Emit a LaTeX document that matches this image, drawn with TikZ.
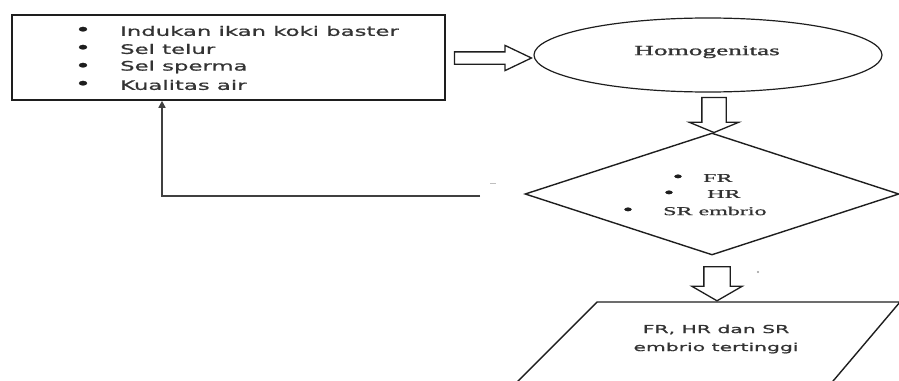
\documentclass[tikz,border=0pt]{standalone}
\usepackage{fontspec}
\usetikzlibrary{shapes.geometric,shapes.arrows,arrows.meta,calc}
\newfontfamily\boxfont[FakeStretch=1.75,FakeBold=1]{DejaVu Sans}
\newfontfamily\parafont[FakeStretch=1.85,FakeBold=1]{DejaVu Sans}
\newfontfamily\ellfont[FakeStretch=1.95,FakeBold=1.5]{Liberation Serif}
\newfontfamily\diafont[FakeStretch=2.0,FakeBold=1]{Liberation Serif}
\definecolor{ink}{HTML}{1E1E1E}
\definecolor{txt}{HTML}{333333}
\tikzset{
  boxtext/.style={anchor=west,inner sep=0pt,text=txt,font=\boxfont\fontsize{13}{15}\selectfont},
  bul/.style={inner sep=0pt,text=ink,font=\boxfont\fontsize{16}{18}\selectfont},
  diatext/.style={anchor=west,inner sep=0pt,text=txt,font=\diafont\fontsize{12}{14}\selectfont},
  dbul/.style={inner sep=0pt,text=ink,font=\diafont\fontsize{15}{17}\selectfont},
  hollow/.style={single arrow,draw=ink,line width=1.3pt,fill=white,single arrow head indent=0pt},
}
\begin{document}
\begin{tikzpicture}[x=1pt,y=-1pt]
\useasboundingbox (0,0) rectangle (899,380);
\clip (0,0) rectangle (899,380);
% input box
\node[draw=ink,line width=1.6pt,minimum width=433pt,minimum height=85pt,inner sep=0pt] (box) at (228.5,57.5) {};
\node[bul] (b1) at (83,31) {•};
\node[boxtext] (t1) at (120,31) {Indukan ikan koki baster};
\node[bul] (b2) at (83,49) {•};
\node[boxtext] (t2) at (120,49) {Sel telur};
\node[bul] (b3) at (83,67) {•};
\node[boxtext] (t3) at (120,67) {Sel sperma};
\node[bul] (b4) at (83,85) {•};
\node[boxtext] (t4) at (120,85) {Kualitas air};
% ellipse
\node[ellipse,draw=ink,line width=1.2pt,minimum width=348pt,minimum height=74pt,inner sep=0pt] (ell) at (708,55) {};
\node[inner sep=0pt,text=txt,font=\ellfont\fontsize{14}{16}\selectfont] (homo) at (707,52) {Homogenitas};
% arrow box -> ellipse
\node[hollow,minimum height=77pt,inner sep=5.5pt,single arrow head extend=6.5pt,single arrow tip angle=51] (a1) at (486.5,58) {};
% diamond
\node[diamond,draw=ink,line width=1.4pt,minimum width=374pt,minimum height=122pt,inner sep=0pt] (dia) at (712,194) {};
\node[dbul] (db1) at (678,178) {•};
\node[diatext] (dt1) at (703,178) {FR};
\node[dbul] (db2) at (669,194) {•};
\node[diatext] (dt2) at (707,194) {HR};
\node[dbul] (db3) at (628,211) {•};
\node[diatext] (dt3) at (663,211) {SR embrio};
% arrow ellipse -> diamond
\node[hollow,rotate=-90,minimum height=35pt,inner sep=11.5pt,single arrow head extend=12.5pt,single arrow tip angle=135] (a2) at (714,112.5) {};
% arrow diamond -> parallelogram
\node[hollow,rotate=-90,minimum height=34pt,inner sep=12.5pt,single arrow head extend=12pt,single arrow tip angle=120] (a3) at (717,280) {};
% parallelogram
\coordinate (p1) at (597,302);
\coordinate (p2) at (900,302);
\coordinate (p3) at (817,400);
\coordinate (p4) at (499,400);
\draw[ink,line width=1.4pt,line join=miter] (p1) -- (p2) -- (p3) -- (p4) -- cycle;
\node[inner sep=0pt,text=txt,align=center,font=\parafont\fontsize{11}{18}\selectfont] (res) at (716,339) {FR, HR dan SR\\embrio tertinggi};
% feedback connector
\coordinate (fb) at (480,196);
\coordinate (corner) at (162,196);
\draw[ink!85,line width=1.5pt,-{Triangle[length=7pt,width=7pt]}] (fb) -- (corner) -- (corner |- box.south);
% faint marks
\coordinate (m1) at (490,183);
\coordinate (m2) at (496,183);
\draw[black!25,line width=0.8pt] (m1) -- (m2);
\coordinate (m3) at (758,272);
\fill[black!40] (m3) circle (1.1pt);
\end{tikzpicture}
\end{document}
